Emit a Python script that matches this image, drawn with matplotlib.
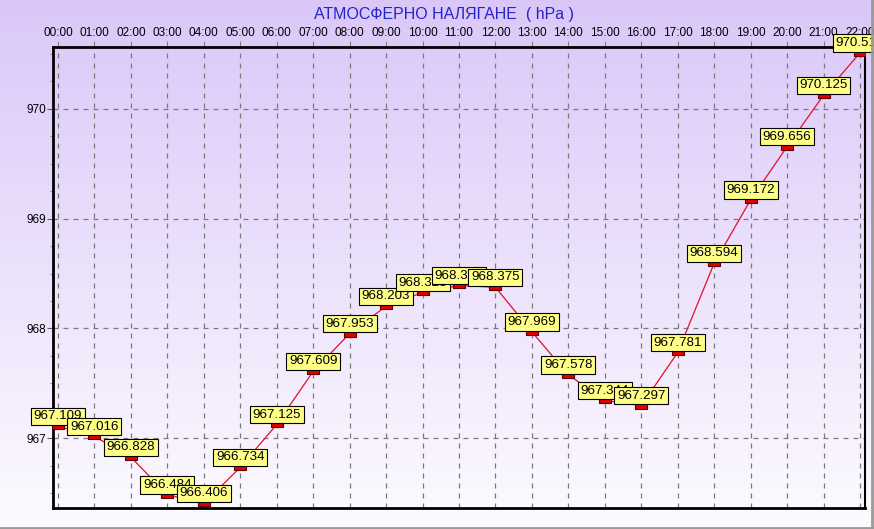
import numpy as np
import matplotlib.pyplot as plt
from matplotlib.path import Path
from matplotlib.lines import Line2D

hours = ["00:00", "01:00", "02:00", "03:00", "04:00", "05:00", "06:00", "07:00",
         "08:00", "09:00", "10:00", "11:00", "12:00", "13:00", "14:00", "15:00",
         "16:00", "17:00", "18:00", "19:00", "20:00", "21:00", "22:00"]
pressure = [967.109, 967.016, 966.828, 966.484, 966.406, 966.734, 967.125, 967.609,
            967.953, 968.203, 968.328, 968.391, 968.375, 967.969, 967.578, 967.344,
            967.297, 967.781, 968.594, 969.172, 969.656, 970.125, 970.510]
yticks = [967, 968, 969, 970]

plt.rcParams['font.family'] = ['Liberation Sans', 'DejaVu Sans']

fig = plt.figure(figsize=(8.74, 5.29), dpi=100)

# vertical gradient background
bg = fig.add_axes([0, 0, 1, 1], zorder=0)
top = np.array([218, 199, 248]) / 255
bot = np.array([253, 251, 255]) / 255
t = np.linspace(0, 1, 256)[:, None]
grad = top + (bot - top) * t
bg.imshow(grad[:, None, :], aspect='auto', extent=[0, 1, 0, 1], origin='upper')
bg.set_axis_off()

ax = fig.add_axes([0.0606, 0.0397, 0.9291, 0.8715], zorder=2)
ax.set_facecolor('none')

x = np.arange(len(hours))
rect = Path([(-1, -0.55), (1, -0.55), (1, 0.55), (-1, 0.55), (-1, -0.55)],
            [Path.MOVETO, Path.LINETO, Path.LINETO, Path.LINETO, Path.CLOSEPOLY])
ax.plot(x, pressure, color='#E0102A', lw=0.9, zorder=3)
ax.plot(x, pressure, ls='none', marker=rect, ms=9, mfc='#E00000', mec='#600000',
        mew=0.8, zorder=4)

for xi, v in zip(x, pressure):
    ax.annotate(f"{v:.3f}", (xi, v), xytext=(0, 2.8), textcoords='offset points',
                ha='center', va='bottom', fontsize=9.6, zorder=5,
                bbox=dict(boxstyle='square,pad=0.2', fc='#FFFF88', ec='black', lw=0.8),
                annotation_clip=False)

ax.set_xlim(-0.137, 22.137)
ax.set_ylim(966.364, 970.564)
ax.xaxis.tick_top()
ax.set_xticks(x)
ax.set_xticklabels(hours)
ax.set_yticks(yticks)
ax.set_yticklabels([str(v) for v in yticks])
ax.set_yticks(np.arange(966.5, 970.6, 0.25), minor=True)
ax.tick_params(axis='x', which='both', length=4, color='#808080', labelsize=8.5, pad=2)
ax.tick_params(axis='y', which='major', length=4, color='#606060', labelsize=8.5, pad=0.8)
ax.tick_params(axis='y', which='minor', length=2, color='#808080')
ax.tick_params(axis='x', which='minor', bottom=False, top=False)

ax.grid(True, which='major', color='#7a7a7a', ls=(0, (4, 4)), lw=0.9)
for s in ['left', 'top', 'bottom']:
    ax.spines[s].set_linewidth(2)
ax.spines['right'].set_linewidth(1.5)

fig.text(0.508, 0.972, "АТМОСФЕРНО НАЛЯГАНЕ  ( hPa )", ha='center', va='center',
         fontsize=11.5, color='#2424C8')

# frame lines at right and bottom
fig.add_artist(Line2D([0.9977, 0.9977], [0.002, 1], transform=fig.transFigure,
                      color='#9a9a9a', lw=2, zorder=10))
fig.add_artist(Line2D([0, 0.9977], [0.002, 0.002], transform=fig.transFigure,
                      color='#9a9a9a', lw=2, zorder=10))

fig.savefig('out.png', dpi=100)
